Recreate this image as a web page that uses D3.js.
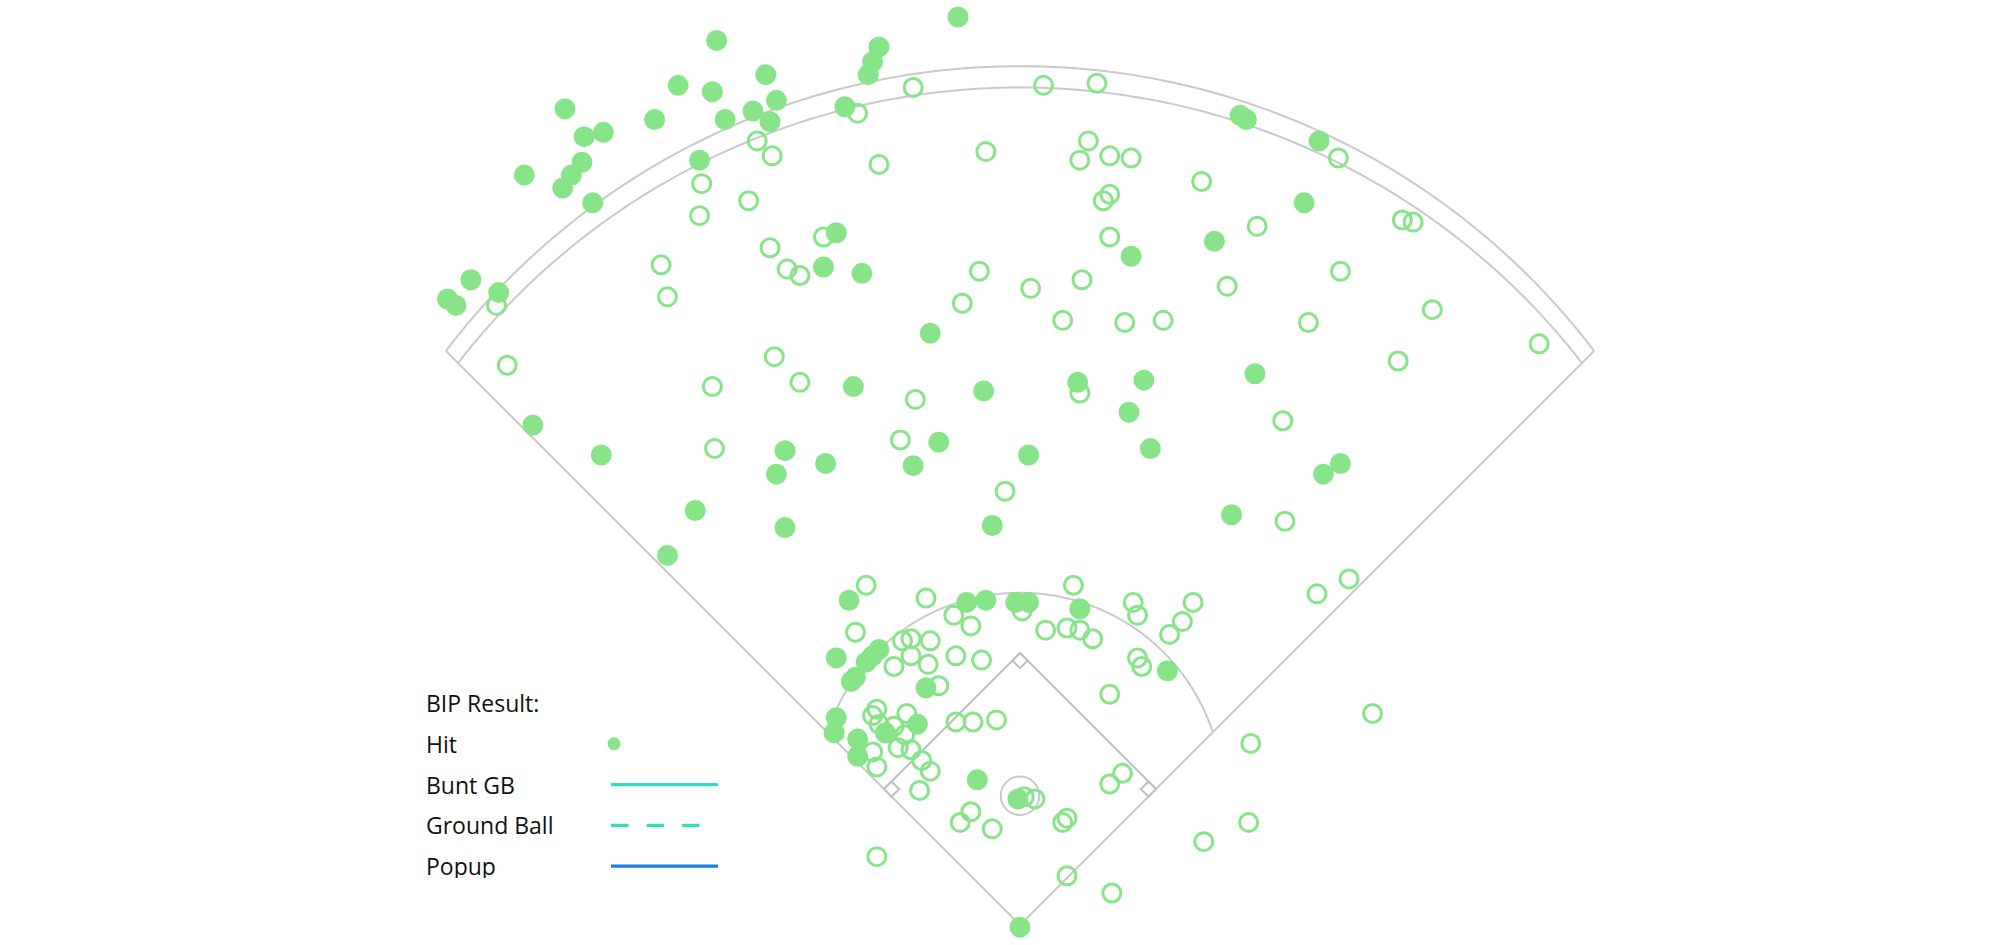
<!DOCTYPE html>
<html>
<head>
<meta charset="utf-8">
<script src="https://cdn.jsdelivr.net/npm/d3@7"></script>
<style>
  html, body { margin: 0; padding: 0; background: #fff; }
  svg { display: block; }
  .legend text { font-family: "Segoe UI", "Open Sans", sans-serif; font-size: 23px; fill: #111; }
</style>
</head>
<body>
<svg id="chart" width="2010" height="945"></svg>
<script>
// balls in play, feet from home plate (x: toward 1B side, y: toward CF)
const hits = [
  [-142, 414], [-66, 411], [-69, 404], [-71, 398], [-119, 398], [-160, 393], [-144, 390],
  [-114, 386], [-125, 381], [-117, 376], [-138, 377], [-171, 377], [-213, 382], [-195, 371],
  [-204, 369], [-205, 357], [-210, 351], [-214, 345], [-232, 351], [-200, 338], [-150, 358],
  [-82, 383], [-86, 324], [-92, 308], [-74, 305], [-257, 302], [-244, 296], [-264, 290],
  [-268, 293], [-29, 425], [103, 379], [106, 377], [140, 367], [52, 313], [91, 320],
  [133, 338], [110, 258], [150, 216], [142, 211], [99, 192], [-42, 277], [-17, 250],
  [27, 254], [58, 255], [51, 240], [61, 223], [4, 220], [-38, 226], [-50, 215], [-13, 187],
  [-78, 252], [-110, 222], [-114, 211], [-91, 216], [-110, 186], [-152, 194], [-165, 173],
  [-196, 220], [-228, 234], [-80, 152], [-25, 151], [-16, 152], [-2, 151], [4, 151],
  [28, 148], [69, 119], [-86, 125], [-69, 126], [-66, 129], [-72, 123], [-77, 116],
  [-79, 114], [-44, 111], [-86, 97], [-87, 90], [-63, 90], [-76, 87], [-76, 79], [-48, 94],
  [-20, 68], [-1, 59], [0, -1]
];

const outs = [
  [-76, 380], [-50, 392], [-123, 367], [-116, 360], [-66, 356], [-149, 347], [-127, 339],
  [-150, 332], [-92, 322], [-117, 317], [-109, 307], [-103, 304], [-168, 309], [-165, 294],
  [-245, 290], [11, 393], [36, 394], [-16, 362], [149, 359], [32, 367], [28, 358], [42, 360],
  [52, 359], [85, 348], [42, 342], [39, 339], [42, 322], [111, 327], [179, 330], [184, 329],
  [150, 306], [97, 299], [193, 288], [243, 272], [135, 282], [177, 264], [123, 236],
  [124, 189], [139, 155], [154, 162], [-19, 306], [5, 298], [29, 302], [-27, 291], [20, 283],
  [49, 282], [67, 283], [-49, 246], [28, 249], [-56, 227], [-7, 203], [-103, 254],
  [-115, 266], [-144, 252], [-143, 223], [-240, 262],
  [-72, 159], [-44, 153], [1, 147], [-31, 145], [-23, 140], [25, 159], [12, 138], [22, 139],
  [28, 138], [34, 134], [53, 151], [55, 145], [81, 151], [76, 142], [70, 136], [55, 125],
  [57, 121], [42, 108], [-77, 137], [-55, 133], [-51, 134], [-42, 133], [-51, 126],
  [-59, 121], [-43, 122], [-30, 126], [-18, 124], [-38, 112], [-67, 101], [-69, 98],
  [-66, 94], [-69, 81], [-67, 74], [-53, 99], [-54, 89], [-51, 82], [-46, 77], [-42, 72],
  [-59, 93], [-57, 83], [-47, 63], [-30, 95], [-22, 95], [-11, 96], [7, 59], [2, 60],
  [42, 66], [48, 71], [-28, 48], [-23, 53], [-13, 45], [22, 50], [20, 48], [22, 23],
  [43, 15], [86, 39], [108, 85], [107, 48], [165, 99], [-67, 32]
];

const legendLabels = ["Hit", "Bunt GB", "Ground Ball", "Popup"];
const legendKinds = ["dot", "solid", "dashed", "solid"];
const legendColors = ["#88e488", "#2ee0c0", "#2ee0c0", "#1a7ee8"];

// field dimensions (ft)
const baseDist = 90;
const moundDist = 60.5;
const moundRadius = 9;
const infieldRadius = 95;
const baseSize = 5;
const fenceCorner = 380, fenceCenter = 402;
const trackCorner = 372, trackCenter = 392;

const pxPerFt = 2.1365;
const svg = d3.select("#chart");

const x = d3.scaleLinear().domain([0, 100]).range([1020, 1020 + 100 * pxPerFt]);
const y = d3.scaleLinear().domain([0, 100]).range([925, 925 - 100 * pxPerFt]);
const color = d3.scaleOrdinal().domain(legendLabels).range(legendColors);

const line = d3.line().x(d => x(d[0])).y(d => y(d[1]));
const r2 = Math.SQRT1_2;

// circle centred on the CF axis passing the foul-line corner and dead centre
function fenceCircle(corner, center) {
  const cy = (center * center - corner * corner) / (2 * center - Math.SQRT2 * corner);
  return {cy: cy, r: center - cy};
}

// distance along a foul line where a circle (0,cy,r) crosses it
function foulHit(cy, r) {
  const a = Math.SQRT2 * cy;
  return (a + Math.sqrt(a * a - 4 * (cy * cy - r * r))) / 2;
}

function arcPts(cy, r) {
  const t = foulHit(cy, r);
  const a0 = Math.atan2(t * r2 - cy, -t * r2);
  const a1 = Math.atan2(t * r2 - cy, t * r2);
  return d3.range(0, 1.0001, 1 / 120).map(k => {
    const a = a0 + (a1 - a0) * k;
    return [r * Math.cos(a), cy + r * Math.sin(a)];
  });
}

const field = svg.append("g").attr("fill", "none").attr("stroke", "#c9c9c9").attr("stroke-width", 2);

const outer = fenceCircle(fenceCorner, fenceCenter);
const inner = fenceCircle(trackCorner, trackCenter);

// foul lines
field.append("path").attr("d", line([[-fenceCorner * r2, fenceCorner * r2], [0, 0], [fenceCorner * r2, fenceCorner * r2]]));
field.append("path").attr("d", line(arcPts(outer.cy, outer.r)));
field.append("path").attr("d", line(arcPts(inner.cy, inner.r)));
field.append("path").attr("d", line(arcPts(moundDist, infieldRadius)));

// diamond
const b = baseDist * r2;
const first = [b, b], second = [0, 2 * b], third = [-b, b];
field.append("path").attr("stroke", "#bdbdbd").attr("d", line([first, second, third]));

function baseSquare(v, u1, u2) {
  return [v,
    [v[0] + u1[0] * baseSize, v[1] + u1[1] * baseSize],
    [v[0] + (u1[0] + u2[0]) * baseSize, v[1] + (u1[1] + u2[1]) * baseSize],
    [v[0] + u2[0] * baseSize, v[1] + u2[1] * baseSize]];
}
const bases = [
  baseSquare(first, [-r2, -r2], [-r2, r2]),
  baseSquare(second, [r2, -r2], [-r2, -r2]),
  baseSquare(third, [r2, r2], [r2, -r2])
];
field.selectAll(".base").data(bases).enter().append("path")
  .attr("class", "base")
  .attr("fill", "#fff")
  .attr("stroke", "#bdbdbd")
  .attr("d", d => line(d) + "Z");

field.append("circle")
  .attr("cx", x(0)).attr("cy", y(moundDist))
  .attr("r", moundRadius * pxPerFt);

// balls in play
const pts = svg.append("g").attr("stroke", color("Hit")).attr("stroke-width", 3);
pts.selectAll(".out").data(outs).enter().append("circle")
  .attr("class", "out")
  .attr("cx", d => x(d[0])).attr("cy", d => y(d[1]))
  .attr("r", 9).attr("fill", "none");
pts.selectAll(".hit").data(hits).enter().append("circle")
  .attr("class", "hit")
  .attr("cx", d => x(d[0])).attr("cy", d => y(d[1]))
  .attr("r", 9).attr("fill", color("Hit"));

// legend
svg.append("clipPath").attr("id", "legclip")
  .append("rect").attr("x", 400).attr("y", 670).attr("width", 400).attr("height", 208);

const legend = svg.append("g").attr("class", "legend").attr("clip-path", "url(#legclip)")
  .append("g").attr("transform", "translate(426,712)");

legend.append("text").attr("x", 0).attr("y", 0).text("BIP Result:");

const rows = legend.selectAll(".row").data(legendLabels).enter().append("g")
  .attr("class", "row")
  .attr("transform", (d, i) => `translate(0,${(i + 1) * 40.8})`);

rows.append("text").attr("x", 0).attr("y", 0).text(d => d);

rows.each(function(d, i) {
  const g = d3.select(this);
  if (legendKinds[i] === "dot") {
    g.append("circle").attr("cx", 188).attr("cy", -9).attr("r", 6.5).attr("fill", color(d));
  } else {
    const dashed = legendKinds[i] === "dashed";
    g.append("line")
      .attr("x1", 185).attr("x2", dashed ? 274 : 292).attr("y1", -9).attr("y2", -9)
      .attr("stroke", color(d)).attr("stroke-width", 3.2)
      .attr("stroke-dasharray", dashed ? "17.5 18" : null);
  }
});
</script>
</body>
</html>
